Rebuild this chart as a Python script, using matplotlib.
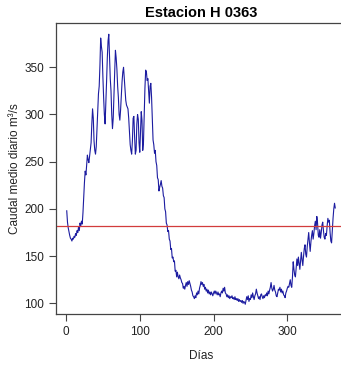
import numpy as np
import matplotlib
matplotlib.use('Agg')
import matplotlib.pyplot as plt

plt.rcParams['font.family'] = ['Liberation Sans', 'DejaVu Sans']

# caudal medio diario (m3/s), dias 1..365
caudal = [
    # dias 1-22
    198, 186, 180, 176, 172, 169, 168, 166, 169, 168, 171, 170, 174, 172, 177,
    175, 181, 177, 185, 182, 187, 184,
    # dias 23-45
    196, 212, 228, 240, 236, 246, 257, 252, 249, 256, 262, 270, 290, 306, 296,
    272, 262, 258, 266, 285, 304, 322, 330,
    # dias 46-70
    352, 381, 372, 366, 340, 318, 300, 290, 312, 335, 360, 378, 385, 360, 338,
    325, 300, 285, 296, 322, 345, 368, 360, 348, 330,
    # dias 71-120
    318, 300, 294, 305, 320, 335, 345, 350, 338, 325,
    315, 310, 308, 306, 296, 282, 268, 262, 258, 272,
    296, 298, 276, 258, 262, 290, 300, 295, 270, 260,
    282, 303, 294, 262, 270, 300, 328, 347, 345, 336,
    338, 325, 312, 330, 333, 318, 296, 273, 268, 259,
    # dias 121-150
    262, 250, 246, 233, 231, 219, 223, 226, 230, 224,
    222, 214, 212, 200, 197, 185, 183, 176, 177, 168,
    166, 157, 158, 148, 149, 144, 145, 134, 135, 128,
    # dias 151-236
    133, 128, 126, 130, 127, 125, 122, 121, 116, 118,
    115, 119, 122, 118, 123, 120, 124, 121, 118, 114,
    112, 108, 107, 105, 108, 106, 111, 109, 113, 110,
    116, 119, 123, 120, 122, 118, 120, 115, 117, 113,
    115, 111, 114, 110, 112, 109, 112, 110, 108, 111,
    113, 110, 113, 111, 109, 112, 109, 110, 107, 111,
    113, 111, 116, 113, 117, 111, 110, 107, 109, 106,
    108, 105, 107, 106, 108, 105, 106, 104, 107, 104,
    105, 103, 105, 102, 104, 102,
    # dias 237-300
    103, 101, 103, 100, 102, 101, 99, 103, 107, 104,
    108, 102, 105, 104, 109, 106, 111, 107, 104, 108,
    110, 115, 111, 108, 105, 107, 104, 109, 110, 107,
    105, 108, 106, 109, 108, 111, 108, 113, 110, 114,
    117, 122, 116, 113, 115, 119, 114, 112, 108, 107,
    111, 115, 114, 117, 112, 115, 111, 113, 109, 108,
    106, 111, 113, 116,
    # dias 301-365
    118, 117, 121, 125, 119, 117, 128, 144, 136, 130,
    128, 138, 147, 140, 149, 142, 136, 145, 154, 146,
    140, 150, 158, 162, 152, 149, 160, 168, 175, 164,
    155, 165, 172, 177, 168, 174, 182, 187, 178, 192,
    185, 172, 170, 178, 169, 175, 183, 186, 177, 170,
    168, 174, 172, 182, 190, 186, 188, 175, 166, 164,
    178, 190, 200, 206, 201,
]
dias = list(range(1, len(caudal) + 1))
caudal_medio = 181.5

xticks = [0, 100, 200, 300]
yticks = [100, 150, 200, 250, 300, 350]

fig = plt.figure(figsize=(3.41, 3.67), dpi=100)
ax = fig.add_axes([56 / 341, 53 / 367, 290 / 341, 291 / 367])

ax.plot(dias, caudal, color='#1c1ca0', lw=0.8)
ax.axhline(caudal_medio, color='#d23c3c', lw=0.9)

ax.set_xlim(-13.56, 379.56)
ax.set_ylim(88.7, 396.9)
ax.set_xticks(xticks)
ax.set_yticks(yticks)

for s in ax.spines.values():
    s.set_color('#444444')
    s.set_linewidth(0.9)
ax.tick_params(direction='out', length=5, width=0.8, color='#444444',
               labelsize=8.5, labelcolor='#222222', pad=3.5)

ax.set_title('Estacion H 0363', fontsize=10.5, fontweight='bold', pad=4)
ax.set_xlabel('Días', fontsize=8.5, color='#222222')
ax.set_ylabel('Caudal medio diario m³/s', fontsize=8.5, color='#222222')
ax.xaxis.set_label_coords(0.5, -41.7 / 291)
ax.yaxis.set_label_coords(-41 / 290, 0.5)
ax.xaxis.label.set_va('center')
ax.yaxis.label.set_va('center')

fig.savefig('out.png', dpi=100)
